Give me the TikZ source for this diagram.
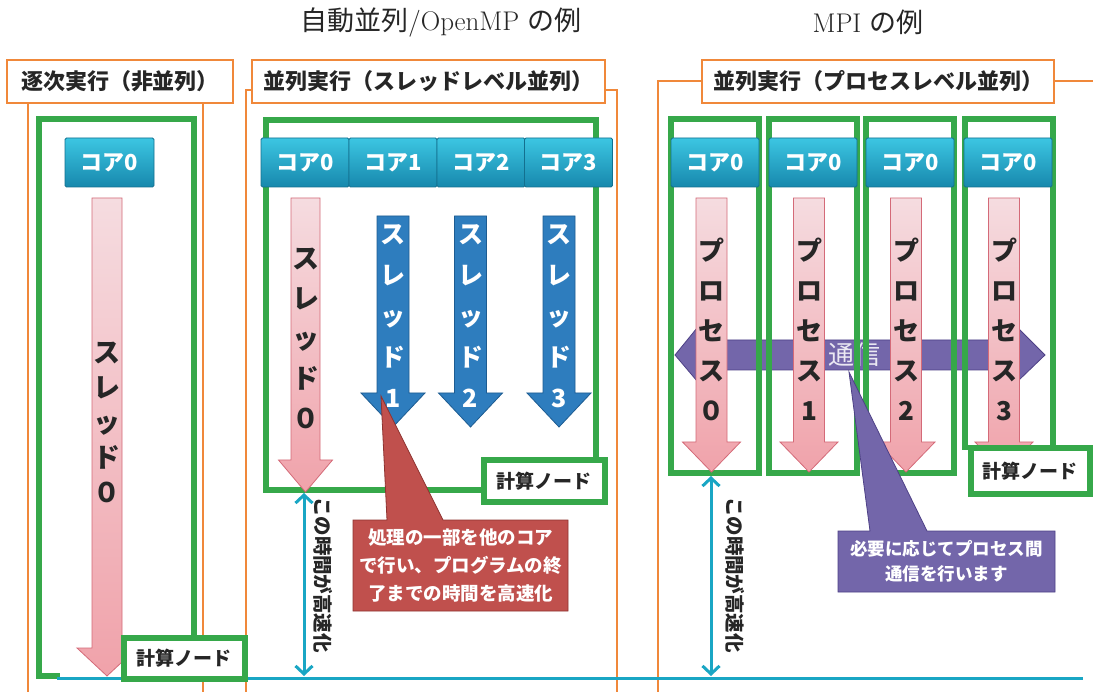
\documentclass[tikz,border=0pt]{standalone}
\usepackage{fontspec}
\newfontfamily\cjk{Noto Sans CJK JP}
\usetikzlibrary{arrows.meta}
\definecolor{orng}{HTML}{F0883A}
\definecolor{grn}{HTML}{36A84A}
\definecolor{cyn}{HTML}{19A6C4}
\definecolor{coretop}{HTML}{3CC6E2}
\definecolor{corebot}{HTML}{1788AD}
\definecolor{coreline}{HTML}{13708F}
\definecolor{pinktop}{HTML}{F5DCE0}
\definecolor{pinkbot}{HTML}{F0A2AA}
\definecolor{pinkline}{HTML}{D46A78}
\definecolor{bluef}{HTML}{2E7DBE}
\definecolor{bluel}{HTML}{1D5C92}
\definecolor{purf}{HTML}{7366AA}
\definecolor{purl}{HTML}{4E4186}
\definecolor{redf}{HTML}{C0504D}
\definecolor{redl}{HTML}{8E3330}
\newcommand{\dnarrow}[7]{%
  \path[#1] ({#2-#5},#3) -- ({#2+#5},#3) -- ({#2+#5},{#4-#7}) -- ({#2+#6},{#4-#7})
    -- (#2,#4) -- ({#2-#6},{#4-#7}) -- ({#2-#5},{#4-#7}) -- cycle;}
\tikzset{
  titlebox/.style={draw=orng, line width=2.5pt, fill=white, inner sep=0pt,
    font=\cjk\bfseries\fontsize{22}{26}\selectfont, text=black!85},
  orline/.style={draw=orng, line width=2.5pt},
  grnbox/.style={draw=grn, line width=6pt},
  labelbox/.style={draw=grn, line width=6pt, fill=white, inner sep=0pt,
    font=\cjk\bfseries\fontsize{19}{22}\selectfont, text=black!85},
  corebox/.style={draw=coreline, line width=0.8pt, top color=coretop, bottom color=corebot,
    rounded corners=1.5pt, inner sep=0pt, text=white,
    font=\cjk\bfseries\fontsize{22}{24}\selectfont},
  pinkarrow/.style={draw=pinkline, line width=0.8pt, top color=pinktop, bottom color=pinkbot},
  bluearrow/.style={draw=bluel, line width=0.8pt, fill=bluef},
  vtext/.style={align=center, inner sep=0pt, font=\cjk\bfseries\fontsize{26}{38}\selectfont, text=black!85},
  vtextw/.style={align=center, inner sep=0pt, font=\cjk\bfseries\fontsize{25}{41}\selectfont, text=white},
  timearrow/.style={draw=cyn, line width=3pt, {Straight Barb[length=8pt,width=17pt]}-{Straight Barb[length=8pt,width=17pt]}},
  timetext/.style={rotate=-90, inner sep=0pt, font=\cjk\bfseries\fontsize{19.5}{22}\selectfont, text=black!85},
  callout/.style={align=center, inner sep=0pt, text=white, font=\cjk\bfseries\fontsize{18.5}{28}\selectfont},
  toptitle/.style={inner sep=0pt, font=\fontsize{27}{30}\selectfont, text=black!85}
}
\begin{document}
\begin{tikzpicture}[x=1pt,y=-1pt]
\useasboundingbox (0,0) rectangle (1093,692);
\fill[white] (0,0) rectangle (1093,692);

% top titles
\node[toptitle] (h1) at (441,22) {{\cjk 自動並列}/OpenMP {\cjk の例}};
\node[toptitle] (h2) at (868,22) {MPI {\cjk の例}};

% orange frame lines
\draw[orline] (28,103) -- (28,692);
\draw[orline] (203,103) -- (203,692);
\draw[orline] (252,90) -- (246,90) -- (246,692);
\draw[orline] (605,90) -- (617,90) -- (617,692);
\draw[orline] (702,81) -- (658,81) -- (658,692);
\draw[orline] (1054,81) -- (1093,81);

% title boxes
\node[titlebox, minimum width=226, minimum height=43] (t1) at (120,81.5) {逐次実行（非並列）};
\node[titlebox, minimum width=353, minimum height=43] (t2) at (428.5,81.5) {並列実行（スレッドレベル並列）};
\node[titlebox, minimum width=352, minimum height=43] (t3) at (878,81.5) {並列実行（プロセスレベル並列）};

% purple communication arrow (behind green boxes)
\path[draw=purl, line width=0.8pt, fill=purf] (675,355) -- (697,328) -- (697,340) -- (1018,340) -- (1018,328)
  -- (1045,355) -- (1018,381) -- (1018,370) -- (697,370) -- (697,381) -- cycle;
\node[inner sep=0pt, text=purf!15, font=\cjk\fontsize{26}{28}\selectfont] (comm) at (854,355) {通信};

% green boxes
\draw[grnbox] (194,635) -- (194,119) -- (39,119) -- (39,676) -- (60,676);
\draw[grnbox] (596,462) -- (596,120) -- (266,120) -- (266,490) -- (485,490);
\draw[grnbox] (671,119) rectangle (759,473);
\draw[grnbox] (769,119) rectangle (857,473);
\draw[grnbox] (866,119) rectangle (954,473);
\draw[grnbox] (965,450) -- (965,119) -- (1053,119) -- (1053,450);

% time baseline
\draw[draw=cyn, line width=3pt] (57,678) -- (1083,678);

% core boxes
\node[corebox, minimum width=89, minimum height=49] (c00) at (109.5,162.5) {コア0};
\node[corebox, minimum width=88, minimum height=49] (c10) at (305,162.5) {コア0};
\node[corebox, minimum width=88, minimum height=49] (c11) at (393,162.5) {コア1};
\node[corebox, minimum width=88, minimum height=49] (c12) at (481,162.5) {コア2};
\node[corebox, minimum width=88, minimum height=49] (c13) at (568.5,162.5) {コア3};
\node[corebox, minimum width=88, minimum height=49] (c20) at (715,162.5) {コア0};
\node[corebox, minimum width=88, minimum height=49] (c21) at (813,162.5) {コア0};
\node[corebox, minimum width=88, minimum height=49] (c22) at (910,162.5) {コア0};
\node[corebox, minimum width=88, minimum height=49] (c23) at (1008,162.5) {コア0};

% sequential thread
\dnarrow{pinkarrow}{107}{198}{676}{15}{30}{28}
\node[vtext, font=\cjk\bfseries\fontsize{27}{35}\selectfont] (s0) at (107,422) {ス\\レ\\ッ\\ド\\０};

% thread level
\dnarrow{pinkarrow}{305.5}{198}{492}{14.5}{27}{32}
\node[vtext, font=\cjk\bfseries\fontsize{27}{40}\selectfont] (p0) at (305.5,338) {ス\\レ\\ッ\\ド\\０};
\dnarrow{bluearrow}{393}{216}{427}{16}{32}{34}
\dnarrow{bluearrow}{470.5}{216}{427}{16}{32}{34}
\dnarrow{bluearrow}{559}{216}{427}{16}{32}{34}
\node[vtextw] (b1) at (393,316) {ス\\レ\\ッ\\ド\\1};
\node[vtextw] (b2) at (470.5,316) {ス\\レ\\ッ\\ド\\2};
\node[vtextw] (b3) at (559,316) {ス\\レ\\ッ\\ド\\3};

% process level
\foreach \cx/\lab/\nm in {711.5/０/q0, 809/1/q1, 906/2/q2, 1004/3/q3}{
  \dnarrow{pinkarrow}{\cx}{198}{472}{15.5}{29}{30}
  \node[vtext, font=\cjk\bfseries\fontsize{26}{40}\selectfont] (\nm) at (\cx,329) {プ\\ロ\\セ\\ス\\\lab};
}

% node labels
\node[labelbox, minimum width=121, minimum height=41] (n1) at (184,658) {計算ノード};
\node[labelbox, minimum width=121, minimum height=42] (n2) at (544,481.5) {計算ノード};
\node[labelbox, minimum width=119, minimum height=46] (n3) at (1030,471.5) {計算ノード};

% time arrows
\coordinate (ta1) at (304,493);
\coordinate (tb1) at (304,676);
\coordinate (ta2) at (711,476);
\coordinate (tb2) at (711,676);
\draw[timearrow] (ta1) -- (tb1);
\draw[timearrow] (ta2) -- (tb2);
\node[timetext] (tt1) at (323,575) {この時間が高速化};
\node[timetext] (tt2) at (735,575) {この時間が高速化};

% red callout
\path[draw=redl, line width=0.8pt, fill=redf] (353,520) -- (387,520) -- (381,396) -- (443,520) -- (568,520)
  -- (568,611) -- (353,611) -- cycle;
\node[callout] (r1) at (460.5,566) {処理の一部を他のコア\\で行い、プログラムの終\\了までの時間を高速化};

% purple callout
\path[draw=purl, line width=0.8pt, fill=purf] (838,531) -- (870,531) -- (849,372) -- (927,531) -- (1055,531)
  -- (1055,592) -- (838,592) -- cycle;
\node[callout, font=\cjk\bfseries\fontsize{17.5}{25}\selectfont] (u1) at (946.5,561) {必要に応じてプロセス間\\通信を行います};
\end{tikzpicture}
\end{document}
